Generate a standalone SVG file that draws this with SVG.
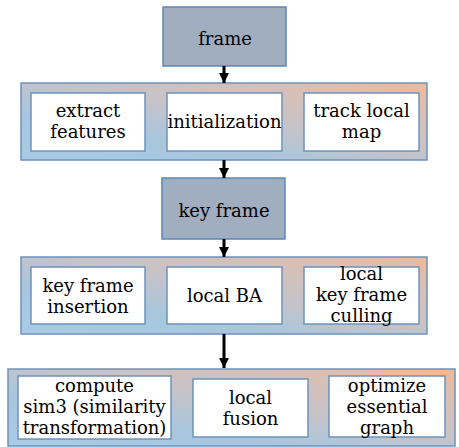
<svg xmlns="http://www.w3.org/2000/svg" width="459" height="447" viewBox="0 0 459 447">
<defs>
<linearGradient id="cg" x1="0" y1="1" x2="1" y2="0">
<stop offset="0" stop-color="#a9cbe6"/>
<stop offset="0.3" stop-color="#a8c6de"/>
<stop offset="0.55" stop-color="#c6c3c9"/>
<stop offset="0.8" stop-color="#d9bfb4"/>
<stop offset="1" stop-color="#efb899"/>
</linearGradient>
<marker id="ah" viewBox="0 0 10 10" refX="10" refY="5" markerWidth="3.5" markerHeight="3.5" orient="auto" markerUnits="strokeWidth">
<path d="M0,0 L10,5 L0,10 z" fill="#000"/>
</marker>
</defs>
<style>
.cont{fill:url(#cg);stroke:#6d93bb;stroke-width:1.5}
.main{fill:#a1aec0;stroke:#5e86b4;stroke-width:1.5}
.box{fill:#fff;stroke:#6d93bb;stroke-width:1.5}
text{font-family:"DejaVu Serif",serif;font-size:18px;fill:#000;text-anchor:middle}
.conn line{stroke:#000;stroke-width:3}
</style>
<g id="frame"><rect class="main" x="163" y="7" width="123" height="59"/><text x="225" y="45">frame</text></g>
<g id="tracking"><rect class="cont" x="21" y="83" width="406" height="77"/></g>
<g id="extract"><rect class="box" x="31" y="93" width="114" height="58"/><text x="88" y="117">extract</text><text x="88" y="138">features</text></g>
<g id="init"><rect class="box" x="167" y="93" width="115" height="58"/><text x="224.5" y="128">initialization</text></g>
<g id="track"><rect class="box" x="304" y="93" width="115" height="58"/><text x="361.5" y="117">track local</text><text x="361.5" y="138">map</text></g>
<g id="keyframe"><rect class="main" x="162" y="178" width="123" height="61"/><text x="224" y="217">key frame</text></g>
<g id="mapping"><rect class="cont" x="21" y="257" width="406" height="77"/></g>
<g id="insert"><rect class="box" x="31" y="267" width="114" height="57"/><text x="88" y="292">key frame</text><text x="88" y="313">insertion</text></g>
<g id="localba"><rect class="box" x="167" y="267" width="115" height="57"/><text x="224.5" y="302">local BA</text></g>
<g id="culling"><rect class="box" x="304" y="267" width="115" height="57"/><text x="361.5" y="280">local</text><text x="361.5" y="301">key frame</text><text x="361.5" y="322">culling</text></g>
<g id="loop"><rect class="cont" x="8" y="369" width="447" height="77"/></g>
<g id="sim3"><rect class="box" x="18" y="376" width="153" height="63"/><text x="94.5" y="392">compute</text><text x="94.5" y="413">sim3 (similarity</text><text x="94.5" y="434">transformation)</text></g>
<g id="fusion"><rect class="box" x="193" y="379" width="115" height="58"/><text x="250.5" y="404">local</text><text x="250.5" y="425">fusion</text></g>
<g id="essential"><rect class="box" x="329" y="376" width="116" height="61"/><text x="387" y="392">optimize</text><text x="387" y="413">essential</text><text x="387" y="434">graph</text></g>
<g class="conn" id="connectors">
<line x1="224" y1="66" x2="224" y2="83" marker-end="url(#ah)"/>
<line x1="224" y1="160" x2="224" y2="178" marker-end="url(#ah)"/>
<line x1="224" y1="239" x2="224" y2="257" marker-end="url(#ah)"/>
<line x1="224" y1="334" x2="224" y2="368" marker-end="url(#ah)"/>
</g>
</svg>
